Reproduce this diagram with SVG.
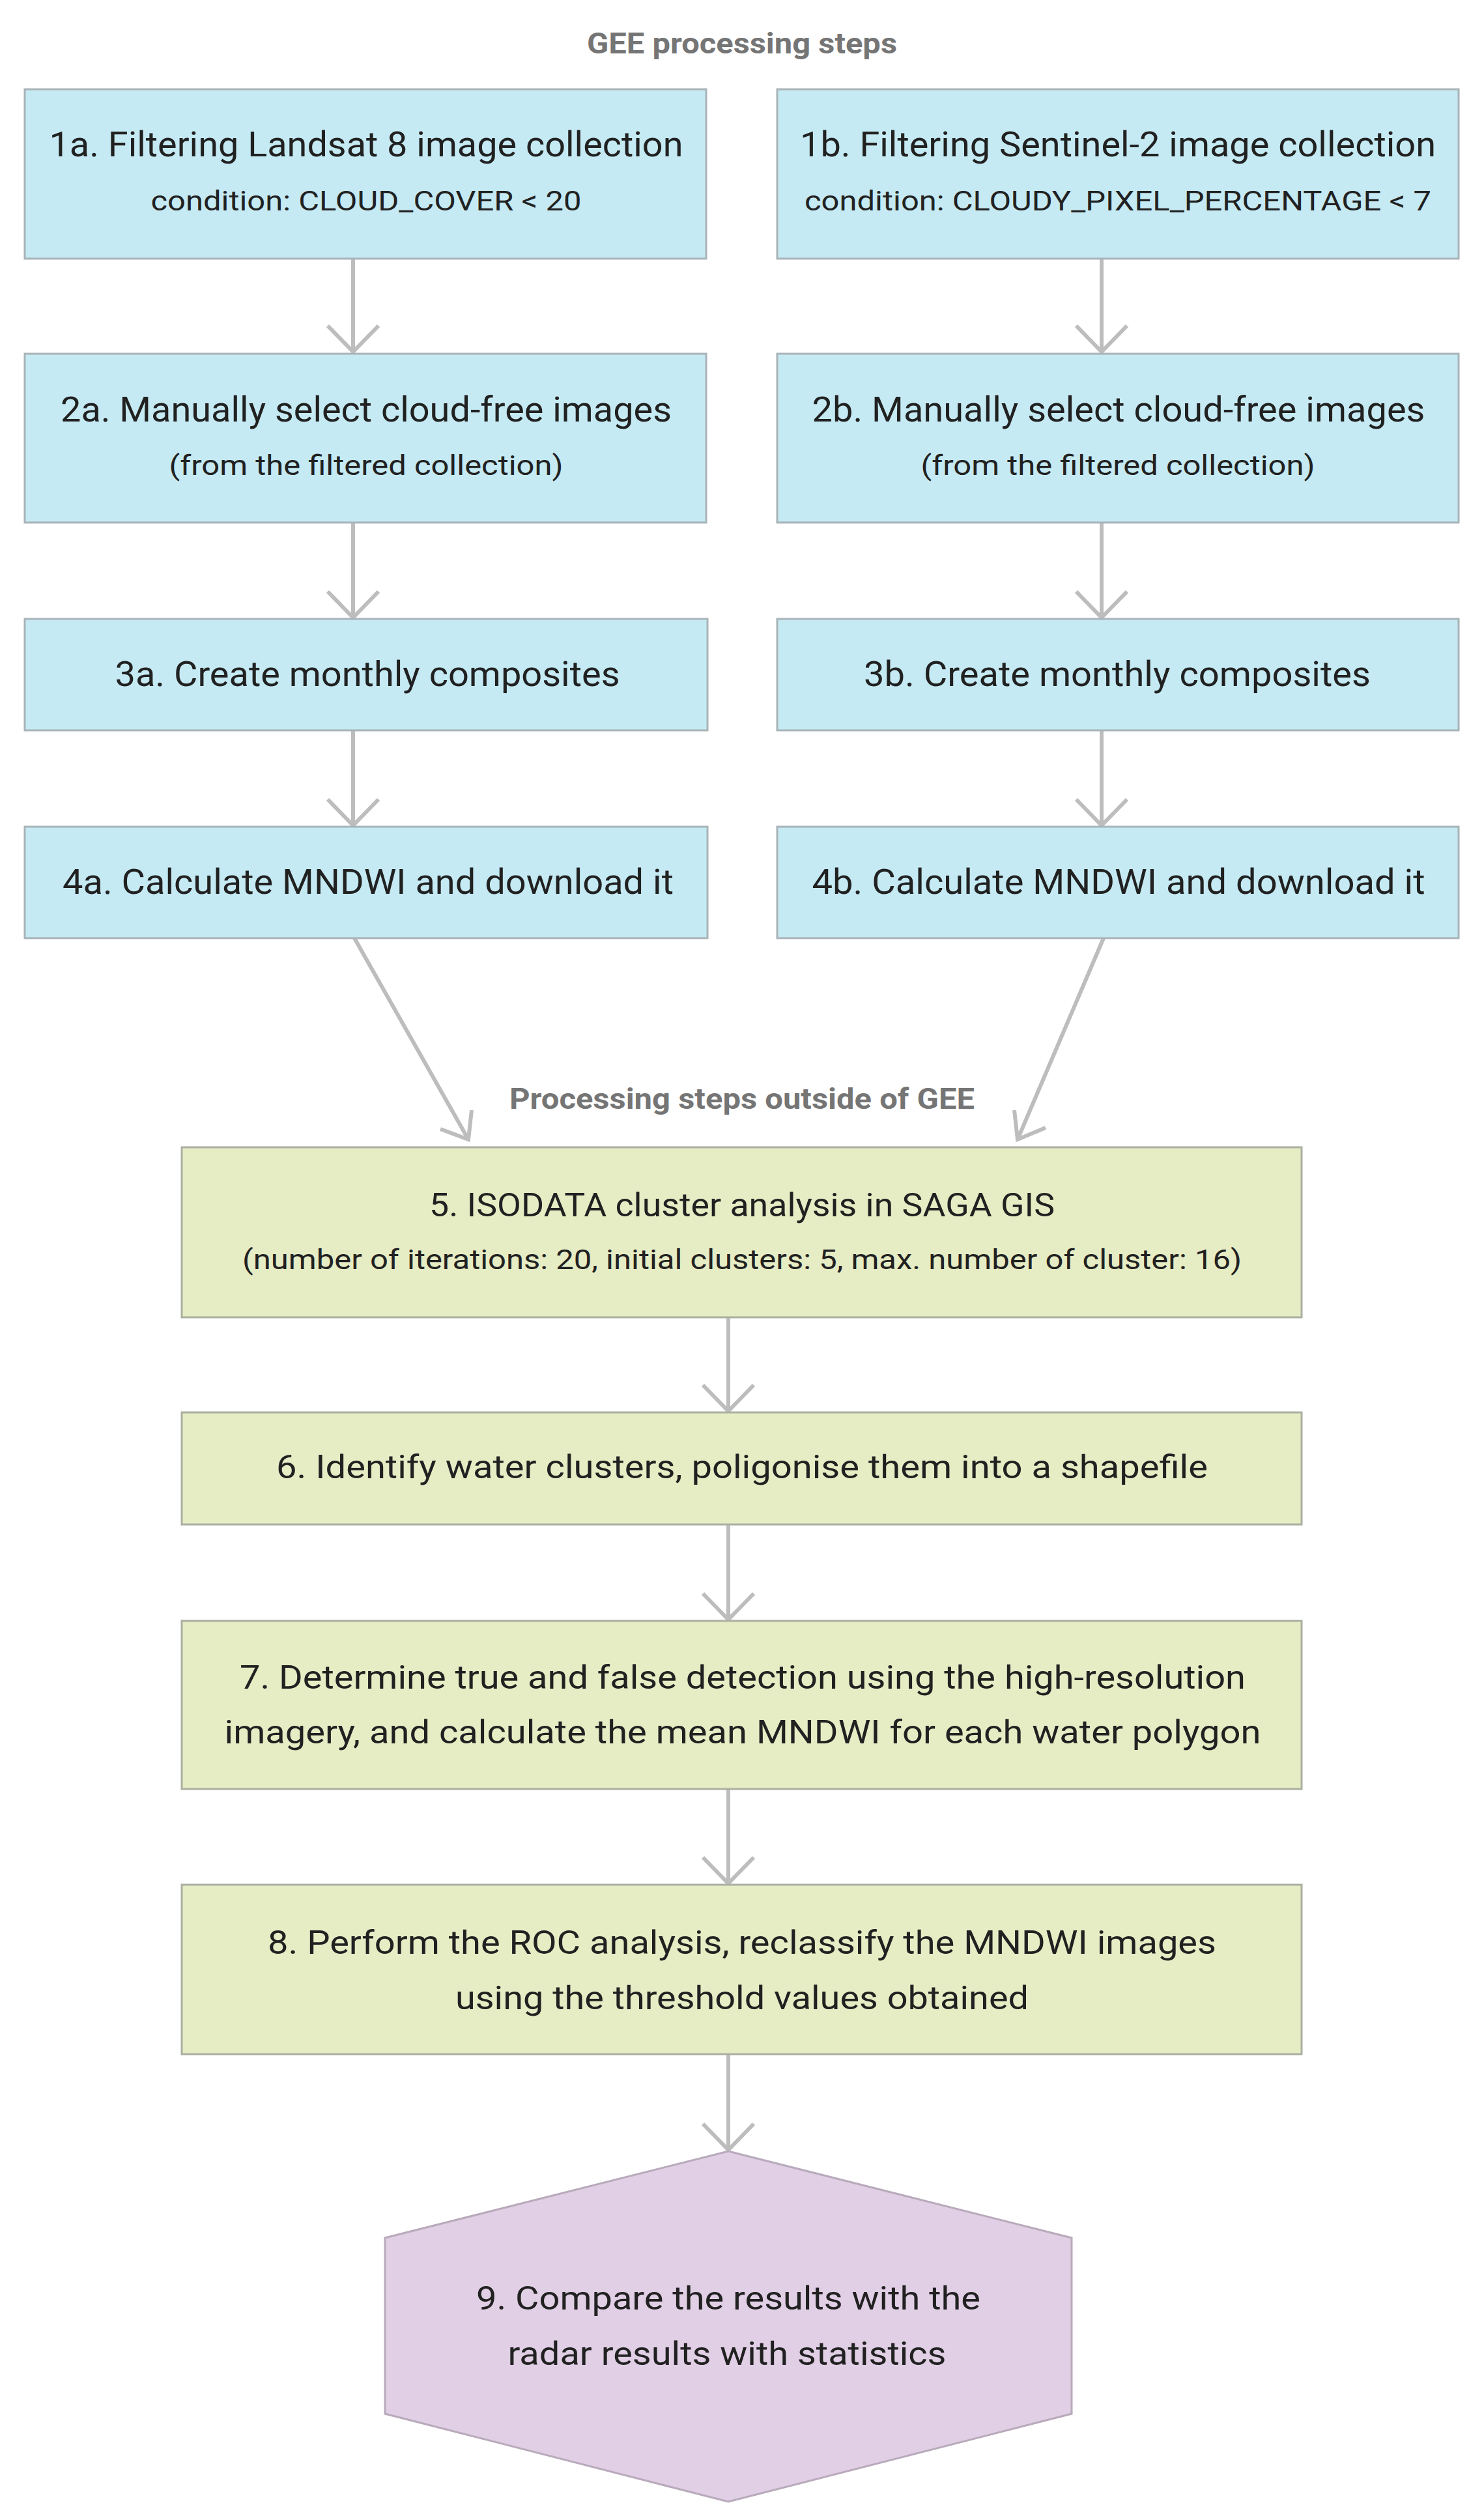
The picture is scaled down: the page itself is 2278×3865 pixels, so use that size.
<svg xmlns="http://www.w3.org/2000/svg" width="2278" height="3865" viewBox="0 0 2278 3865">
<style>
.b{fill:#c5eaf3;stroke:#a8b4b8;stroke-width:3}
.g{fill:#e6ecc4;stroke:#aab0a0;stroke-width:3}
.p{fill:#e1cfe5;stroke:#b8aabb;stroke-width:3}
text{font-family:Roboto,"Liberation Sans",sans-serif;fill:#212121;text-anchor:middle}
.t1{font-size:54px}
.t2{font-size:42px}
.t3{font-size:50px}
.h{font-size:44px;font-weight:bold;fill:#757575}
.c{stroke:#bdbdbd;stroke-width:6;fill:none}
</style>
<text class="h" x="1139" y="82" textLength="476" lengthAdjust="spacingAndGlyphs">GEE processing steps</text>
<text class="h" x="1139" y="1702" textLength="714" lengthAdjust="spacingAndGlyphs">Processing steps outside of GEE</text>
<g id="connectors" class="c">
<path d="M542 397V540M503 500L542 540L581 500"/>
<path d="M1691 397V540M1652 500L1691 540L1730 500"/>
<path d="M542 802V948M503 908L542 948L581 908"/>
<path d="M1691 802V948M1652 908L1691 948L1730 908"/>
<path d="M542 1121V1267M503 1227L542 1267L581 1227"/>
<path d="M1691 1121V1267M1652 1227L1691 1267L1730 1227"/>
<path d="M544 1440L719 1749M676 1733L719 1749L724 1704"/>
<path d="M1694 1440L1562 1749M1557 1704L1562 1749L1605 1731"/>
<path d="M1118 2022V2166M1079 2126L1118 2166L1157 2126"/>
<path d="M1118 2340V2486M1079 2446L1118 2486L1157 2446"/>
<path d="M1118 2746V2891M1079 2851L1118 2891L1157 2851"/>
<path d="M1118 3153V3300M1079 3260L1118 3300L1157 3260"/>
</g>
<g id="n1a"><rect class="b" x="38" y="137" width="1046" height="260"/>
<text class="t1" x="562" y="240" textLength="973" lengthAdjust="spacingAndGlyphs">1a. Filtering Landsat 8 image collection</text>
<text class="t2" x="562" y="323" textLength="661" lengthAdjust="spacingAndGlyphs">condition: CLOUD_COVER &lt; 20</text></g>
<g id="n1b"><rect class="b" x="1193" y="137" width="1046" height="260"/>
<text class="t1" x="1716" y="240" textLength="976" lengthAdjust="spacingAndGlyphs">1b. Filtering Sentinel-2 image collection</text>
<text class="t2" x="1716" y="323" textLength="962" lengthAdjust="spacingAndGlyphs">condition: CLOUDY_PIXEL_PERCENTAGE &lt; 7</text></g>
<g id="n2a"><rect class="b" x="38" y="543" width="1046" height="259"/>
<text class="t1" x="562" y="647" textLength="938" lengthAdjust="spacingAndGlyphs">2a. Manually select cloud-free images</text>
<text class="t2" x="562" y="729" textLength="605" lengthAdjust="spacingAndGlyphs">(from the filtered collection)</text></g>
<g id="n2b"><rect class="b" x="1193" y="543" width="1046" height="259"/>
<text class="t1" x="1717" y="647" textLength="941" lengthAdjust="spacingAndGlyphs">2b. Manually select cloud-free images</text>
<text class="t2" x="1716" y="729" textLength="605" lengthAdjust="spacingAndGlyphs">(from the filtered collection)</text></g>
<g id="n3a"><rect class="b" x="38" y="950" width="1048" height="171"/>
<text class="t1" x="564" y="1053" textLength="775" lengthAdjust="spacingAndGlyphs">3a. Create monthly composites</text></g>
<g id="n3b"><rect class="b" x="1193" y="950" width="1046" height="171"/>
<text class="t1" x="1715" y="1053" textLength="778" lengthAdjust="spacingAndGlyphs">3b. Create monthly composites</text></g>
<g id="n4a"><rect class="b" x="38" y="1269" width="1048" height="171"/>
<text class="t1" x="565" y="1372" textLength="938" lengthAdjust="spacingAndGlyphs">4a. Calculate MNDWI and download it</text></g>
<g id="n4b"><rect class="b" x="1193" y="1269" width="1046" height="171"/>
<text class="t1" x="1717" y="1372" textLength="941" lengthAdjust="spacingAndGlyphs">4b. Calculate MNDWI and download it</text></g>
<g id="n5"><rect class="g" x="279" y="1761" width="1719" height="261"/>
<text class="t3" x="1139" y="1867" textLength="960" lengthAdjust="spacingAndGlyphs">5. ISODATA cluster analysis in SAGA GIS</text>
<text class="t2" x="1139" y="1948" textLength="1534" lengthAdjust="spacingAndGlyphs">(number of iterations: 20, initial clusters: 5, max. number of cluster: 16)</text></g>
<g id="n6"><rect class="g" x="279" y="2168" width="1719" height="172"/>
<text class="t3" x="1139" y="2269" textLength="1430" lengthAdjust="spacingAndGlyphs">6. Identify water clusters, poligonise them into a shapefile</text></g>
<g id="n7"><rect class="g" x="279" y="2488" width="1719" height="258"/>
<text class="t3" x="1140" y="2592" textLength="1544" lengthAdjust="spacingAndGlyphs">7. Determine true and false detection using the high-resolution</text>
<text class="t3" x="1140" y="2676" textLength="1591" lengthAdjust="spacingAndGlyphs">imagery, and calculate the mean MNDWI for each water polygon</text></g>
<g id="n8"><rect class="g" x="279" y="2893" width="1719" height="260"/>
<text class="t3" x="1139" y="2999" textLength="1456" lengthAdjust="spacingAndGlyphs">8. Perform the ROC analysis, reclassify the MNDWI images</text>
<text class="t3" x="1139" y="3084" textLength="880" lengthAdjust="spacingAndGlyphs">using the threshold values obtained</text></g>
<g id="n9"><polygon class="p" points="1118,3302 1645,3435 1645,3705 1118,3840 591,3705 591,3435"/>
<text class="t3" x="1118" y="3545" textLength="774" lengthAdjust="spacingAndGlyphs">9. Compare the results with the</text>
<text class="t3" x="1116" y="3630" textLength="673" lengthAdjust="spacingAndGlyphs">radar results with statistics</text></g>
</svg>
